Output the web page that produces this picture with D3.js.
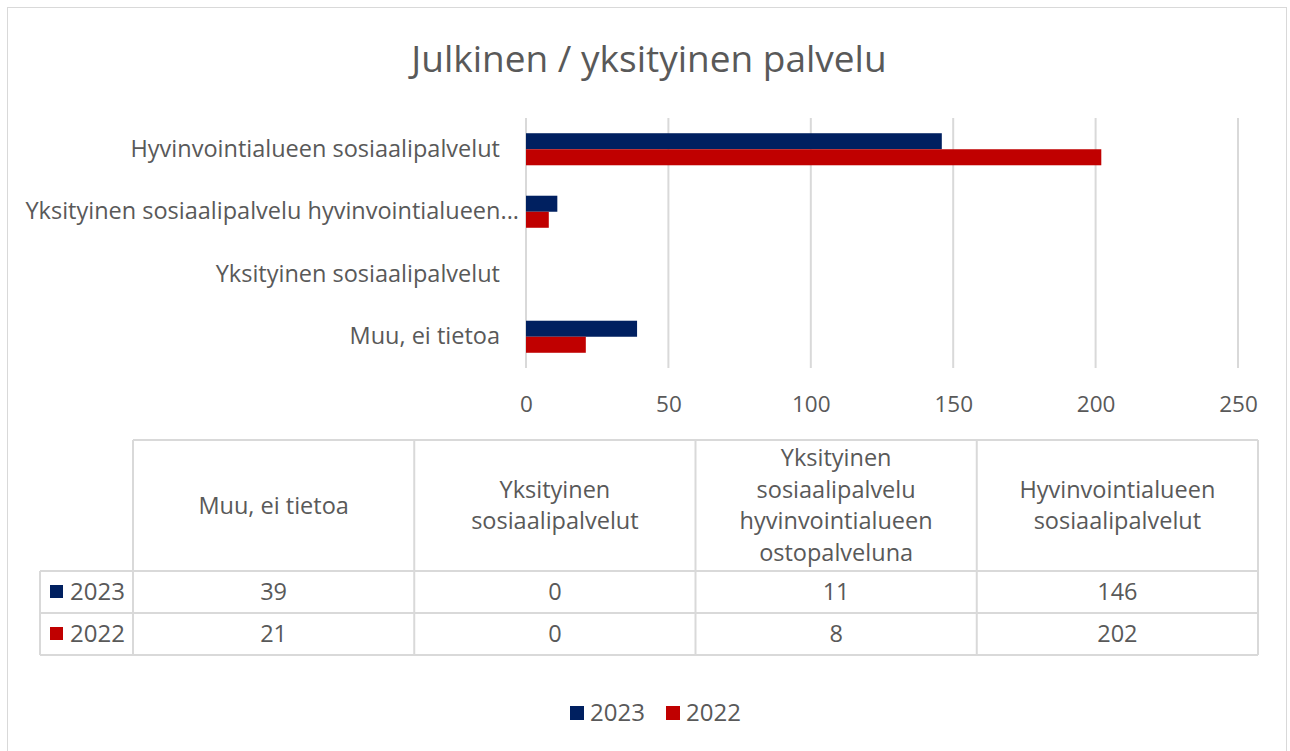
<!DOCTYPE html>
<html>
<head>
<meta charset="utf-8">
<script src="https://cdn.jsdelivr.net/npm/d3@7"></script>
<style>
  html, body { margin: 0; padding: 0; background: #fff; }
  svg { display: block; }
  text { font-family: "Open Sans", sans-serif; fill: #595959; }
</style>
</head>
<body>
<svg id="chart" width="1290" height="751"></svg>
<script>
// ---- data ----
const title = "Julkinen / yksityinen palvelu";
const categories = [
  "Muu, ei tietoa",
  "Yksityinen sosiaalipalvelut",
  "Yksityinen sosiaalipalvelu hyvinvointialueen ostopalveluna",
  "Hyvinvointialueen sosiaalipalvelut"
];
const axisLabels = [
  "Muu, ei tietoa",
  "Yksityinen sosiaalipalvelut",
  "Yksityinen sosiaalipalvelu hyvinvointialueen...",
  "Hyvinvointialueen sosiaalipalvelut"
];
const headerLines = [
  ["Muu, ei tietoa"],
  ["Yksityinen", "sosiaalipalvelut"],
  ["Yksityinen", "sosiaalipalvelu", "hyvinvointialueen", "ostopalveluna"],
  ["Hyvinvointialueen", "sosiaalipalvelut"]
];
const seriesNames = ["2023", "2022"];
const values2023 = [39, 0, 11, 146];
const values2022 = [21, 0, 8, 202];
const seriesColors = ["#002060", "#C00000"];
const xTicks = [0, 50, 100, 150, 200, 250];

const series = [values2023, values2022];

const svg = d3.select("#chart");
const gridColor = "#d9d9d9";

// chart frame
svg.append("rect").attr("x", 7.5).attr("y", 7.5).attr("width", 1279).attr("height", 760)
  .attr("fill", "#fff").attr("stroke", "#d9d9d9").attr("stroke-width", 1);

// title
svg.append("text").attr("x", 649).attr("y", 72).attr("text-anchor", "middle")
  .style("font-size", "37px").text(title);

// scales
const x = d3.scaleLinear().domain([0, 250]).range([526, 1238]);
const y = d3.scaleBand().domain(categories.slice().reverse()).range([118, 368]).paddingInner(0).paddingOuter(0);
const inner = d3.scaleBand().domain(seriesNames).range([0, y.bandwidth()]).paddingInner(0).paddingOuter(0.95);

// gridlines
svg.append("g").selectAll("line").data(xTicks).join("line")
  .attr("x1", d => x(d)).attr("x2", d => x(d))
  .attr("y1", 118).attr("y2", 368)
  .attr("stroke", gridColor).attr("stroke-width", 2);

// x axis labels
const xAxis = d3.axisBottom(x).tickValues(xTicks).tickSize(0).tickPadding(0);
const gx = svg.append("g").attr("transform", "translate(0,412)").call(xAxis);
gx.select(".domain").remove();
gx.selectAll("text").style("font-size", "22.5px").attr("fill", "#595959").attr("dy", 0)
  .style("font-family", "'Open Sans', sans-serif");

// y category labels
const yAxis = d3.axisLeft(y).tickSize(0).tickPadding(0).tickFormat((d, i) => axisLabels[categories.indexOf(d)]);
const gy = svg.append("g").attr("transform", "translate(500,0)").call(yAxis);
gy.select(".domain").remove();
gy.selectAll("text").style("font-size", "23.5px").attr("fill", "#595959")
  .style("font-family", "'Open Sans', sans-serif")
  .attr("x", d => axisLabels[categories.indexOf(d)].endsWith("...") ? 19 : 0);

// bars
seriesNames.forEach((s, si) => {
  svg.append("g").selectAll("rect").data(categories).join("rect")
    .attr("x", x(0))
    .attr("y", d => y(d) + inner(s))
    .attr("width", (d, i) => x(series[si][i]) - x(0))
    .attr("height", inner.bandwidth())
    .attr("fill", seriesColors[si]);
});

// data table
const colX = d3.scaleBand().domain(categories).range([133, 1258]);
const tTop = 440, hBottom = 571, rowH = 42;
const tLeft = 40, tRight = 1258;
const tg = svg.append("g");
const line = (x1, y1, x2, y2) => tg.append("line").attr("x1", x1).attr("y1", y1).attr("x2", x2).attr("y2", y2)
  .attr("stroke", gridColor).attr("stroke-width", 2);
line(133, tTop, tRight, tTop);
line(tLeft, hBottom, tRight, hBottom);
line(tLeft, hBottom + rowH, tRight, hBottom + rowH);
line(tLeft, hBottom + 2 * rowH, tRight, hBottom + 2 * rowH);
line(tLeft, hBottom, tLeft, hBottom + 2 * rowH);
categories.forEach(c => line(colX(c), tTop, colX(c), hBottom + 2 * rowH));
line(tRight, tTop, tRight, hBottom + 2 * rowH);

// header text
const lh = 31.5;
categories.forEach((c, i) => {
  const lines = headerLines[i];
  const cy = (tTop + hBottom) / 2;
  const t = tg.append("text").attr("text-anchor", "middle").style("font-size", "23.5px");
  lines.forEach((l, j) => {
    t.append("tspan").attr("x", colX(c) + colX.bandwidth() / 2)
      .attr("y", cy + (j - (lines.length - 1) / 2) * lh).attr("dy", "0.35em").text(l);
  });
});
// rows
seriesNames.forEach((s, si) => {
  const cy = hBottom + rowH * si + rowH / 2;
  tg.append("rect").attr("x", 50).attr("y", cy - 7).attr("width", 13).attr("height", 13).attr("fill", seriesColors[si]);
  tg.append("text").attr("x", 70).attr("y", cy).attr("dy", "0.35em").style("font-size", "24px").text(s);
  categories.forEach((c, i) => {
    tg.append("text").attr("x", colX(c) + colX.bandwidth() / 2).attr("y", cy).attr("dy", "0.35em")
      .attr("text-anchor", "middle").style("font-size", "23.5px").text(series[si][i]);
  });
});

// legend
const legendX = [570, 666];
const lg = svg.append("g");
seriesNames.forEach((s, si) => {
  lg.append("rect").attr("x", legendX[si]).attr("y", 706).attr("width", 14).attr("height", 14).attr("fill", seriesColors[si]);
  lg.append("text").attr("x", legendX[si] + 20).attr("y", 713).attr("dy", "0.35em").style("font-size", "24px").text(s);
});
</script>
</body>
</html>
